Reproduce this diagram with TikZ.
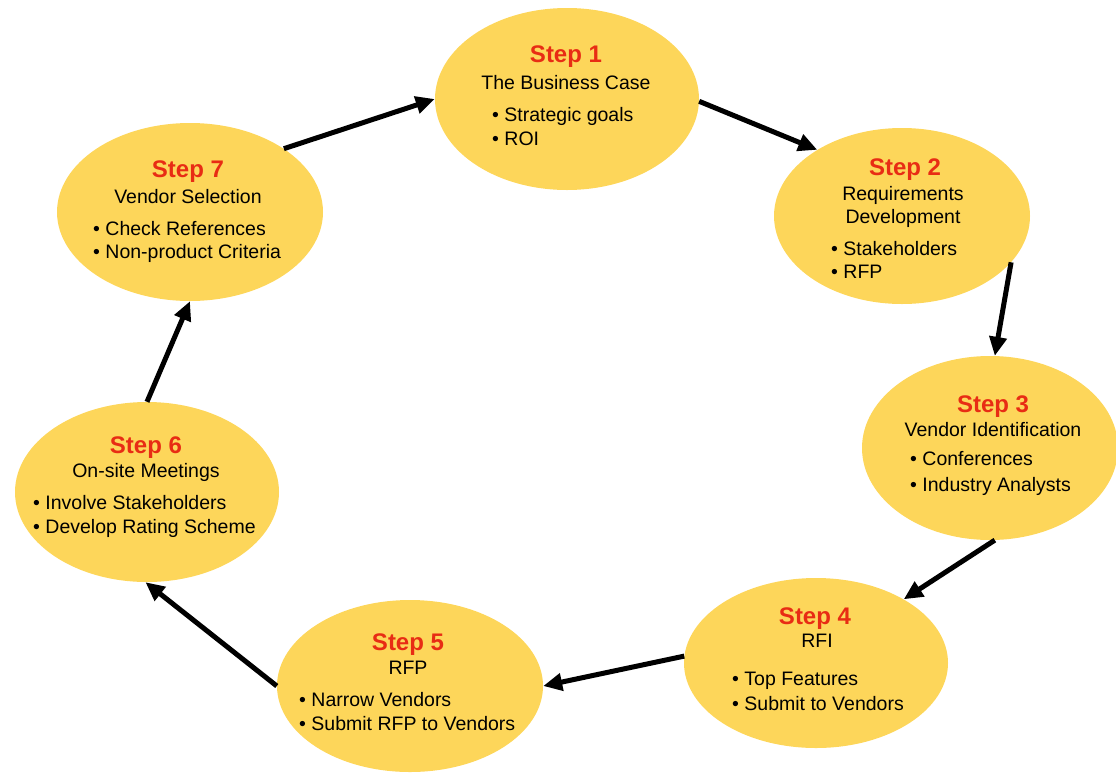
\documentclass[tikz,border=0pt]{standalone}
\usepackage{fontspec}
\setmainfont{Liberation Sans}
\usetikzlibrary{shapes.geometric,arrows.meta}
\definecolor{egg}{RGB}{253,214,90}
\definecolor{stepred}{RGB}{232,44,20}
\begin{document}
\begin{tikzpicture}[x=1pt,y=-1pt,
  stepell/.style={ellipse,fill=egg,draw=none,inner sep=0pt},
  steplbl/.style={anchor=base,text=stepred,font=\fontsize{24}{28}\selectfont\bfseries,inner sep=0pt},
  ttl/.style={anchor=base,font=\fontsize{19.5}{24.5}\selectfont,inner sep=0pt},
  bul/.style={anchor=base west,font=\fontsize{19.5}{23}\selectfont,inner sep=0pt},
  flow/.style={line width=5pt,-{Triangle[length=19pt,width=17pt]}}]
\useasboundingbox (0,0) rectangle (1116,774);

% ellipses
\node[stepell,minimum width=264pt,minimum height=182pt] (s1) at (567,99) {};
\node[stepell,minimum width=256pt,minimum height=176pt] (s2) at (902,216) {};
\node[stepell,minimum width=256pt,minimum height=184pt] (s3) at (990,448) {};
\node[stepell,minimum width=264pt,minimum height=170pt] (s4) at (816,663) {};
\node[stepell,minimum width=266pt,minimum height=172pt] (s5) at (410,686) {};
\node[stepell,minimum width=264pt,minimum height=180pt] (s6) at (147,492) {};
\node[stepell,minimum width=266pt,minimum height=178pt] (s7) at (190,212) {};

% step 1
\node[steplbl] (t1) at (566,62) {Step 1};
\node[ttl] (h1) at (566,89) {The Business Case};
\node[bul] (b1a) at (492,121) {• Strategic goals};
\node[bul] (b1b) at (492,145) {• ROI};
% step 2
\node[steplbl] (t2) at (905,175) {Step 2};
\node[ttl] (h2a) at (903,200) {Requirements};
\node[ttl] (h2b) at (903,223) {Development};
\node[bul] (b2a) at (831,255) {• Stakeholders};
\node[bul] (b2b) at (831,278) {• RFP};
% step 3
\node[steplbl] (t3) at (993,412) {Step 3};
\node[ttl] (h3) at (993,436) {Vendor Identification};
\node[bul] (b3a) at (910,465) {• Conferences};
\node[bul] (b3b) at (910,491) {• Industry Analysts};
% step 4
\node[steplbl] (t4) at (815,624) {Step 4};
\node[ttl] (h4) at (817,647) {RFI};
\node[bul] (b4a) at (732,685) {• Top Features};
\node[bul] (b4b) at (732,710) {• Submit to Vendors};
% step 5
\node[steplbl] (t5) at (408,650) {Step 5};
\node[ttl] (h5) at (408,674) {RFP};
\node[bul] (b5a) at (299,706) {• Narrow Vendors};
\node[bul] (b5b) at (299,730) {• Submit RFP to Vendors};
% step 6
\node[steplbl] (t6) at (146,453) {Step 6};
\node[ttl] (h6) at (146,477) {On-site Meetings};
\node[bul] (b6a) at (33,509) {• Involve Stakeholders};
\node[bul] (b6b) at (33,533) {• Develop Rating Scheme};
% step 7
\node[steplbl] (t7) at (188,177) {Step 7};
\node[ttl] (h7) at (188,203) {Vendor Selection};
\node[bul] (b7a) at (93,235) {• Check References};
\node[bul] (b7b) at (93,258) {• Non-product Criteria};

% arrows
\draw[flow] (s7.34) -- (s1.180);
\draw[flow] (s1.-1) -- (s2.142);
\draw[flow] (s2.-23) -- (s3.87);
\draw[flow] (s3.-87) -- (s4.36);
\draw[flow] (s4.177) -- (s5.0);
\draw[flow] (s5.180) -- (s6.-91);
\draw[flow] (s6.90) -- (s7.-90);
\end{tikzpicture}
\end{document}
